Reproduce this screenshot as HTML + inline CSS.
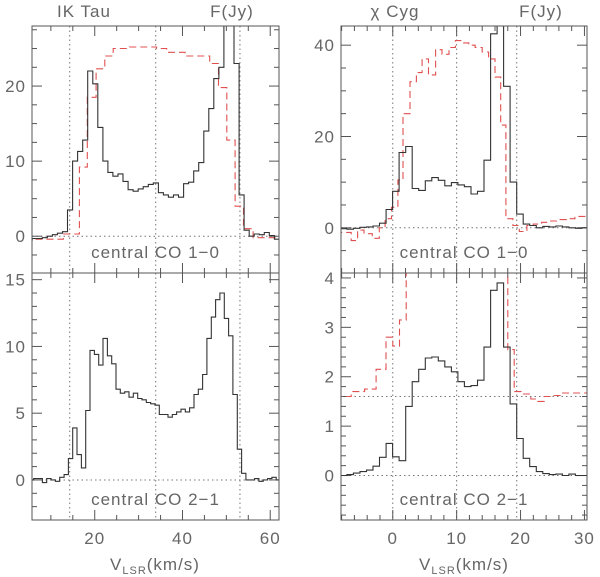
<!DOCTYPE html>
<html><head><meta charset="utf-8"><style>
body{margin:0;background:#fff;}
svg{display:block;font-family:"Liberation Sans",sans-serif;}
text{fill:#666;font-size:17px;letter-spacing:1px;}
</style></head><body>
<svg id="chart" width="600" height="577" viewBox="0 0 600 577"></svg>
<script>
// ---- data ----
// IK Tau CO 1-0 (black, uniform bins)
const ikTau10Start = 4.6, ikTau10Width = 1.15;
const ikTau10Values = [-0.5,-0.3,-0.3,-0.2,0,0.2,0.4,0.6,3.5,10,11.3,12.8,22,20.3,14.5,10,8.5,8,8.3,7.3,6.2,6,6.3,6.6,6.9,7.1,5.8,5.5,5.2,5.5,5.2,7,7.2,8.7,9.8,14,17,21,22.5,30,30,23,5.5,0.8,0,0.3,0.2,0.5,0.1,-0.4,-0.3];
// IK Tau CO 1-0 comparison (red dashed, edges)
const ikTau10RedEdges = [4,12.85,16.5,18.3,20.3,22.3,24.2,27.9,34.1,36.4,40.6,46.2,48.2,50.1,52.0,53.9,56.1,63];
const ikTau10RedValues = [-0.4,0.3,9.2,18.5,22.3,24,25,25.2,25,24.5,24,23,19.8,12.8,4,1,-0.2];
// IK Tau CO 2-1 (black)
const ikTau21Start = 5.11, ikTau21Width = 0.987;
const ikTau21Values = [0,0.1,0.1,-0.2,0.1,0,-0.1,0.2,0.4,1.6,3.9,1.9,0.9,5.2,9.7,9.4,8.6,10.6,9.3,8.7,6.8,6.5,6.6,6.2,6.5,6.1,6.0,5.8,5.7,5.6,4.9,4.9,4.7,4.9,5.1,5.3,5.1,5.4,6.4,6.8,7.9,10.6,12.2,13.5,14.0,12.1,10.8,6.4,2.3,0.5,0,0,0.1,-0.1,0,0.1,0.2,0,0.1,0,0];
// chi Cyg CO 1-0 (black)
const chiCyg10Start = -8.2, chiCyg10Width = 1.022;
const chiCyg10Values = [-0.2,-0.3,-0.1,0.1,0.2,0.4,1.0,4,8,16.5,17.8,8.6,8.2,10.3,11,10.4,9.2,9.9,9.4,9,7.4,8,14.8,42.5,46,31,10,3,0.8,0.5,0,0.3,0.2,0.4,0.2,0,-0.1,0,0];
// chi Cyg CO 1-0 (red dashed, edges)
const chiCyg10RedEdges = [-9,-6.5,-5.5,-4.5,-3.2,-2.1,-1.2,-0.2,0.8,1.6,2.7,3.7,4.6,5.6,6.7,7.7,8.8,9.8,10.9,11.9,12.9,14,15,16,16.9,17.7,18.8,19.8,21,22,23.3,24.6,25.9,27.2,28.5,31];
const chiCyg10RedValues = [-1,-2.8,-0.5,-1.3,-2.3,0,2,4.5,10.5,25,32,34,37,33.5,39,38,39.5,41,40.5,40,39.5,38.5,37,33,22.5,2,0.5,-0.8,0.5,0.8,1.2,1.5,1.8,2,2.5];
// chi Cyg CO 2-1 (black)
const chiCyg21Start = -8.2, chiCyg21Width = 1.022;
const chiCyg21Values = [0,0.02,0.05,0.08,0.11,0.19,0.37,0.65,0.38,0.3,1.4,1.9,2.15,2.38,2.4,2.32,2.2,2.1,1.9,1.8,1.82,1.93,2.6,3.75,3.9,2.6,1.45,0.75,0.35,0.18,0.08,0.04,0.02,0.03,0,0.03,0,0,0];
// chi Cyg CO 2-1 (red dashed, edges)
const chiCyg21RedEdges = [-9,-6.5,-4.4,-2.6,-1.05,0,1.05,2.1,18.0,19.0,20.1,21.6,22.7,23.7,25.0,26.3,28.6,31];
const chiCyg21RedValues = [1.6,1.7,1.75,2.15,2.8,2.62,3.15,5,2.55,1.7,1.65,1.55,1.5,1.6,1.62,1.67,1.67];

// ---- drawing ----
const NS = "http://www.w3.org/2000/svg";
const svg = document.getElementById('chart');
function el(tag, attrs, parent){const e=document.createElementNS(NS,tag);for(const k in attrs)e.setAttribute(k,attrs[k]);(parent||svg).appendChild(e);return e;}

const panels = [
 {id:'iktau-co10', x0:32,x1:279,y0:26,y1:273, vmin:5.7,vmax:62, fmin:-4.9,fmax:28, xmaj:20,xmin:5, ymaj:10,ymin:2.5, ylabels:[0,10,20], vlines:[14.3,33.9,53.1], hlines:[0], label:'central CO 1\u22120', xlabels:false},
 {id:'iktau-co21', x0:32,x1:279,y0:273,y1:520, vmin:5.7,vmax:62, fmin:-3,fmax:15.5, xmaj:20,xmin:5, ymaj:5,ymin:1, ylabels:[0,5,10,15], vlines:[14.3,33.9,53.1], hlines:[0], label:'central CO 2\u22121', xlabels:[20,40,60]},
 {id:'chicyg-co10', x0:341,x1:587,y0:26,y1:273, vmin:-8.1,vmax:30.4, fmin:-9.9,fmax:44.2, xmaj:10,xmin:2, ymaj:20,ymin:5, ylabels:[0,20,40], vlines:[0,10,19.4], hlines:[0], label:'central CO 1\u22120', xlabels:false},
 {id:'chicyg-co21', x0:341,x1:587,y0:273,y1:520, vmin:-8.1,vmax:30.4, fmin:-0.9,fmax:4.1, xmaj:10,xmin:2, ymaj:1,ymin:0.2, ylabels:[0,1,2,3,4], vlines:[0,10,19.4], hlines:[0,1.6], label:'central CO 2\u22121', xlabels:[0,10,20,30]},
];
panels.forEach(p=>{
  p.sx=v=>p.x0+(v-p.vmin)/(p.vmax-p.vmin)*(p.x1-p.x0);
  p.sy=f=>p.y1-(f-p.fmin)/(p.fmax-p.fmin)*(p.y1-p.y0);
});

function uniformEdges(start,width,n){const e=[];for(let i=0;i<=n;i++)e.push(start+i*width);return e;}
function histPath(p,edges,vals){
  let d='';
  for(let i=0;i<vals.length;i++){
    const xa=p.sx(edges[i]),xb=p.sx(edges[i+1]),y=p.sy(vals[i]);
    d+=(i===0?'M':'L')+xa.toFixed(1)+','+y.toFixed(1)+'L'+xb.toFixed(1)+','+y.toFixed(1);
  }
  return d;
}

panels.forEach((p,pi)=>{
  const g=el('g',{});
  
  
  const cp=el('clipPath',{id:'clip'+pi},g);
  el('rect',{x:p.x0,y:p.y0,width:p.x1-p.x0,height:p.y1-p.y0},cp);
  p.vlines.forEach(v=>{const l=el('line',{x1:p.sx(v),x2:p.sx(v),y1:p.y0,y2:p.y1,stroke:'#777','stroke-width':1,'stroke-dasharray':'1.5,3'},g);
    
    });
  p.hlines.forEach(f=>{const l=el('line',{x1:p.x0,x2:p.x1,y1:p.sy(f),y2:p.sy(f),stroke:'#777','stroke-width':1,'stroke-dasharray':'1.5,3'},g);
    
    });
  const tk=el('g',{stroke:'#555','stroke-width':1},g);
  
  
  for(let v=Math.ceil(p.vmin/p.xmin)*p.xmin; v<=p.vmax; v+=p.xmin){
    const isM=Math.abs(v/p.xmaj-Math.round(v/p.xmaj))<1e-6, L=isM?10:5, x=p.sx(v);
    el('line',{x1:x,x2:x,y1:p.y0,y2:p.y0+L},tk); el('line',{x1:x,x2:x,y1:p.y1,y2:p.y1-L},tk);
  }
  for(let f=Math.ceil(p.fmin/p.ymin-1e-9)*p.ymin; f<=p.fmax+1e-9; f+=p.ymin){
    const isM=Math.abs(f/p.ymaj-Math.round(f/p.ymaj))<1e-6, L=isM?10:5, y=p.sy(f);
    el('line',{x1:p.x0,x2:p.x0+L,y1:y,y2:y},tk); el('line',{x1:p.x1,x2:p.x1-L,y1:y,y2:y},tk);
  }
  p.ylabels.forEach(f=>{const t=el('text',{x:p.x0-6,y:p.sy(f)+6,'text-anchor':'end'},g);t.textContent=f;
    });
  if(p.xlabels)p.xlabels.forEach(v=>{const t=el('text',{x:p.sx(v),y:544,'text-anchor':'middle'},g);t.textContent=v;
    });
  const lb=el('text',{x:(p.x0+p.x1)/2,y:p.y1-15,'text-anchor':'middle','letter-spacing':'1.5'},g);lb.textContent=p.label;
  
  p.g=g;
});

function addSeries(pi,edges,vals,color,dash,name){
  const p=panels[pi];
  const path=el('path',{d:histPath(p,edges,vals),fill:'none',stroke:color,'stroke-width':1.1,'clip-path':'url(#clip'+pi+')'},p.g);
  if(dash)path.setAttribute('stroke-dasharray',dash);
  
  
}
addSeries(0,ikTau10RedEdges,ikTau10RedValues,'#e05050','7,4','iktau-co10-red-spectrum');
addSeries(0,uniformEdges(ikTau10Start,ikTau10Width,ikTau10Values.length),ikTau10Values,'#333',null,'iktau-co10-spectrum');
addSeries(1,uniformEdges(ikTau21Start,ikTau21Width,ikTau21Values.length),ikTau21Values,'#333',null,'iktau-co21-spectrum');
addSeries(2,chiCyg10RedEdges,chiCyg10RedValues,'#e05050','7,4','chicyg-co10-red-spectrum');
addSeries(2,uniformEdges(chiCyg10Start,chiCyg10Width,chiCyg10Values.length),chiCyg10Values,'#333',null,'chicyg-co10-spectrum');
addSeries(3,chiCyg21RedEdges,chiCyg21RedValues,'#e05050','7,4','chicyg-co21-red-spectrum');
addSeries(3,uniformEdges(chiCyg21Start,chiCyg21Width,chiCyg21Values.length),chiCyg21Values,'#333',null,'chicyg-co21-spectrum');

panels.forEach(p=>{
  const r=el('rect',{x:p.x0,y:p.y0,width:p.x1-p.x0,height:p.y1-p.y0,fill:'none',stroke:'#555','stroke-width':1},p.g);
  
  
});

function label(x,y,txt,name,anchor){const t=el('text',{x:x,y:y,'text-anchor':anchor||'middle'});t.textContent=txt;
  return t;}
label(84,17,'IK Tau','star-title-ik-tau');
label(232,17,'F(Jy)','flux-unit-left');
label(395,17,'\u03c7 Cyg','star-title-chi-cyg');
label(541,17,'F(Jy)','flux-unit-right');
[155,464].forEach((cx,i)=>{
  const t=el('text',{x:cx,y:570,'text-anchor':'middle'});
  
  
  t.innerHTML='V<tspan font-size="11" dy="4">LSR</tspan><tspan dy="-4">(km/s)</tspan>';
});
</script>
</body></html>
